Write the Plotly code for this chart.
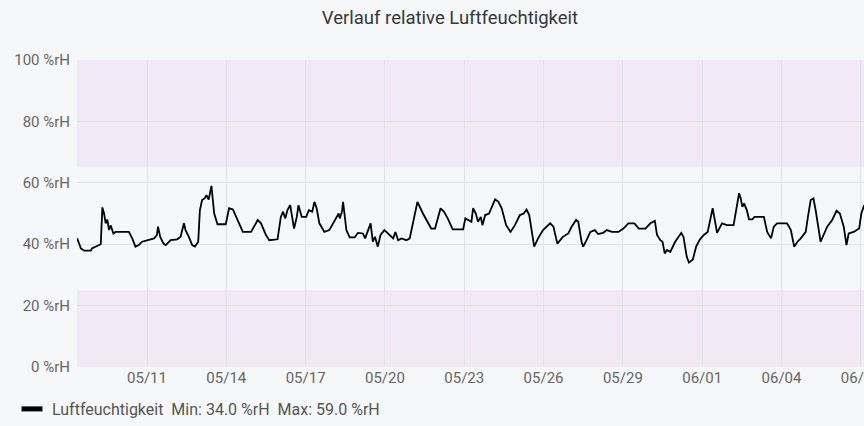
import plotly.graph_objects as go

title_text = "Verlauf relative Luftfeuchtigkeit"
series_name = "Luftfeuchtigkeit"
unit = "%rH"

times = [
    "2024-05-08 08:30", "2024-05-08 12:00", "2024-05-08 15:00", "2024-05-08 21:00", "2024-05-08 22:00",
    "2024-05-09 01:00", "2024-05-09 06:00", "2024-05-09 07:30", "2024-05-09 09:00", "2024-05-09 10:30",
    "2024-05-09 12:00", "2024-05-09 13:30", "2024-05-09 15:00", "2024-05-09 17:30", "2024-05-09 19:30",
    "2024-05-10 07:30", "2024-05-10 09:00", "2024-05-10 10:30", "2024-05-10 13:30", "2024-05-10 16:30",
    "2024-05-10 19:30", "2024-05-11 00:30", "2024-05-11 06:30", "2024-05-11 09:00", "2024-05-11 10:00",
    "2024-05-11 12:00", "2024-05-11 15:00", "2024-05-11 17:00", "2024-05-11 21:30", "2024-05-12 03:30",
    "2024-05-12 06:30", "2024-05-12 09:30", "2024-05-12 11:00", "2024-05-12 14:00", "2024-05-12 17:00",
    "2024-05-12 19:30", "2024-05-12 22:30", "2024-05-13 00:00", "2024-05-13 02:00", "2024-05-13 04:30",
    "2024-05-13 06:00", "2024-05-13 08:00", "2024-05-13 10:30", "2024-05-13 13:00", "2024-05-13 16:00",
    "2024-05-13 23:30", "2024-05-14 02:30", "2024-05-14 06:00", "2024-05-14 10:30", "2024-05-14 15:00",
    "2024-05-14 22:30", "2024-05-15 04:30", "2024-05-15 07:30", "2024-05-15 12:00", "2024-05-15 15:00",
    "2024-05-15 22:30", "2024-05-16 01:30", "2024-05-16 03:30", "2024-05-16 05:30", "2024-05-16 07:30",
    "2024-05-16 10:00", "2024-05-16 11:30", "2024-05-16 13:30", "2024-05-16 16:00", "2024-05-16 17:30",
    "2024-05-16 20:30", "2024-05-17 00:30", "2024-05-17 03:00", "2024-05-17 06:00", "2024-05-17 08:00",
    "2024-05-17 10:00", "2024-05-17 12:30", "2024-05-17 17:00", "2024-05-17 21:30", "2024-05-18 02:00",
    "2024-05-18 06:00", "2024-05-18 07:00", "2024-05-18 09:00", "2024-05-18 10:00", "2024-05-18 13:00",
    "2024-05-18 16:00", "2024-05-18 20:30", "2024-05-18 23:30", "2024-05-19 04:00", "2024-05-19 06:00",
    "2024-05-19 08:30", "2024-05-19 11:00", "2024-05-19 13:00", "2024-05-19 15:00", "2024-05-19 17:30",
    "2024-05-19 20:00", "2024-05-19 23:30", "2024-05-20 02:30", "2024-05-20 07:30", "2024-05-20 09:30",
    "2024-05-20 12:00", "2024-05-20 15:00", "2024-05-20 19:30", "2024-05-20 22:30", "2024-05-21 05:30",
    "2024-05-21 10:30", "2024-05-21 15:00", "2024-05-21 18:00", "2024-05-21 21:30", "2024-05-22 02:30",
    "2024-05-22 05:30", "2024-05-22 09:00", "2024-05-22 13:30", "2024-05-22 23:00", "2024-05-23 01:00",
    "2024-05-23 03:30", "2024-05-23 06:30", "2024-05-23 08:00", "2024-05-23 10:30", "2024-05-23 12:30",
    "2024-05-23 15:00", "2024-05-23 16:30", "2024-05-23 19:00", "2024-05-23 22:30", "2024-05-24 01:00",
    "2024-05-24 04:00", "2024-05-24 07:00", "2024-05-24 10:00", "2024-05-24 14:00", "2024-05-24 18:00",
    "2024-05-24 22:00", "2024-05-25 02:30", "2024-05-25 06:00", "2024-05-25 08:30", "2024-05-25 11:00",
    "2024-05-25 13:00", "2024-05-25 15:30", "2024-05-25 19:00", "2024-05-25 23:30", "2024-05-26 06:00",
    "2024-05-26 09:00", "2024-05-26 12:30", "2024-05-26 17:30", "2024-05-26 22:30", "2024-05-27 01:30",
    "2024-05-27 05:30", "2024-05-27 07:30", "2024-05-27 10:30", "2024-05-27 12:00", "2024-05-27 15:00",
    "2024-05-27 18:30", "2024-05-27 22:30", "2024-05-28 01:30", "2024-05-28 06:00", "2024-05-28 09:30",
    "2024-05-28 14:00", "2024-05-28 20:00", "2024-05-29 00:30", "2024-05-29 05:00", "2024-05-29 10:30",
    "2024-05-29 14:30", "2024-05-29 20:30", "2024-05-30 01:00", "2024-05-30 05:00", "2024-05-30 07:00",
    "2024-05-30 10:00", "2024-05-30 12:00", "2024-05-30 14:00", "2024-05-30 16:00", "2024-05-30 19:00",
    "2024-05-30 23:30", "2024-05-31 05:00", "2024-05-31 07:00", "2024-05-31 10:00", "2024-05-31 12:00",
    "2024-05-31 15:30", "2024-05-31 18:30", "2024-05-31 22:00", "2024-06-01 01:30", "2024-06-01 05:00",
    "2024-06-01 07:30", "2024-06-01 09:30", "2024-06-01 12:00", "2024-06-01 13:30", "2024-06-01 18:00",
    "2024-06-01 22:30", "2024-06-02 04:30", "2024-06-02 07:30", "2024-06-02 09:30", "2024-06-02 11:00",
    "2024-06-02 12:30", "2024-06-02 14:00", "2024-06-02 16:30", "2024-06-02 18:30", "2024-06-02 21:30",
    "2024-06-02 23:30", "2024-06-03 08:00", "2024-06-03 11:00", "2024-06-03 12:30", "2024-06-03 14:30",
    "2024-06-03 17:00", "2024-06-03 20:00", "2024-06-04 05:00", "2024-06-04 08:30", "2024-06-04 11:30",
    "2024-06-04 14:30", "2024-06-04 17:30", "2024-06-04 22:00", "2024-06-05 00:00", "2024-06-05 02:30",
    "2024-06-05 05:00", "2024-06-05 07:00", "2024-06-05 11:30", "2024-06-05 14:30", "2024-06-05 17:30",
    "2024-06-05 22:00", "2024-06-06 02:00", "2024-06-06 05:00", "2024-06-06 08:30", "2024-06-06 11:00",
    "2024-06-06 13:00", "2024-06-06 17:30", "2024-06-06 22:30", "2024-06-07 00:30", "2024-06-07 03:00",
]

humidity = [
    42.0, 38.6, 37.9, 37.9, 38.6,
    39.2, 40.0, 52.0, 50.0, 46.8,
    48.0, 44.6, 46.2, 43.5, 44.0,
    44.0, 43.0, 42.0, 39.2, 39.7,
    40.8, 41.3, 41.9, 43.0, 45.7,
    42.4, 40.2, 39.7, 41.3, 41.6,
    42.4, 46.8, 44.6, 42.4, 39.7,
    39.2, 40.8, 51.0, 54.4, 55.0,
    56.0, 54.5, 59.0, 50.0, 46.5,
    46.5, 51.7, 51.3, 47.9, 44.0,
    44.0, 47.9, 46.8, 43.0, 41.3,
    41.6, 48.9, 50.6, 48.4, 51.1,
    52.7, 48.9, 45.1, 48.9, 52.7,
    48.9, 48.9, 51.1, 50.6, 53.8,
    51.7, 46.8, 44.0, 44.6, 47.3,
    50.0, 48.4, 50.6, 53.8, 44.6,
    42.2, 42.2, 43.7, 43.5, 41.9,
    44.6, 46.8, 40.8, 42.4, 39.2,
    43.0, 44.6, 43.5, 41.9, 44.0,
    41.3, 41.9, 41.3, 41.9, 53.8,
    50.0, 46.8, 45.1, 45.1, 51.7,
    50.6, 48.4, 44.8, 44.8, 48.4,
    47.9, 47.3, 51.7, 50.0, 47.3,
    48.9, 46.2, 49.5, 50.0, 52.2,
    54.6, 53.8, 51.7, 46.2, 44.0,
    46.2, 49.5, 50.0, 51.3, 49.5,
    44.6, 39.2, 41.9, 44.6, 46.8,
    45.7, 40.2, 42.4, 43.5, 45.7,
    47.9, 47.3, 40.8, 39.2, 41.3,
    44.0, 44.6, 43.3, 43.7, 44.6,
    44.0, 44.0, 45.1, 46.8, 46.8,
    45.1, 45.1, 46.8, 47.6, 43.0,
    41.3, 40.8, 37.0, 38.1, 37.5,
    40.8, 43.7, 42.4, 35.9, 34.0,
    35.0, 39.2, 41.6, 43.0, 44.0,
    48.9, 51.7, 46.8, 43.7, 46.8,
    46.2, 46.2, 52.2, 56.6, 54.9,
    52.2, 53.3, 51.1, 48.1, 48.1,
    48.9, 48.9, 44.0, 43.0, 41.9,
    45.7, 46.8, 46.8, 44.6, 39.2,
    40.8, 41.9, 44.0, 48.9, 54.4,
    54.9, 51.1, 40.8, 43.0, 45.7,
    47.9, 50.9, 50.0, 45.7, 39.7,
    43.5, 44.0, 45.1, 50.0, 52.7,
]

y_ticks = [0, 20, 40, 60, 80, 100]
y_tick_labels = [f"{v} {unit}" for v in y_ticks]
band_high = [65, 100]
band_low = [0, 25]
x_range = ["2024-05-08 08:27", "2024-06-07 02:54"]

legend_label = f"{series_name}  Min: {min(humidity):.1f} {unit}  Max: {max(humidity):.1f} {unit}"

bg = "#f6f7f9"
band_color = "#f1eaf6"
grid_color = "#e2e2e8"

W, H = 864, 426

fig = go.Figure()
fig.add_trace(go.Scatter(
    x=times, y=humidity, mode="lines",
    line=dict(color="#000000", width=1.8),
    showlegend=False, name=series_name,
))
fig.add_trace(go.Scatter(
    x=[None], y=[None], mode="markers", name=legend_label,
    marker=dict(symbol="line-ew-open", size=15, color="#000000",
                line=dict(width=5, color="#000000")),
))

for lo, hi in (band_high, band_low):
    fig.add_shape(type="rect", xref="paper", yref="y", x0=0, x1=1, y0=lo, y1=hi,
                  fillcolor=band_color, line=dict(width=0), layer="below")

fig.update_layout(
    width=W, height=H,
    margin=dict(l=77, r=0, t=60, b=59, autoexpand=False),
    paper_bgcolor=bg, plot_bgcolor=bg,
    font=dict(family="Roboto", size=15, color="#666666"),
    title=dict(text=title_text, x=450 / W, xanchor="center", xref="container",
               y=1 - 18 / H, yanchor="middle", yref="container",
               font=dict(family="Roboto", size=18.5, color="#33373d")),
    legend=dict(orientation="h", xref="container", yref="container",
                x=12 / W, y=0.0, xanchor="left", yanchor="bottom",
                font=dict(size=16, color="#555555"), itemwidth=30,
                bgcolor="rgba(0,0,0,0)"),
    xaxis=dict(type="date", range=x_range, tickformat="%m/%d", dtick=3 * 86400000,
               tick0="2024-05-11", showgrid=True, gridcolor=grid_color, gridwidth=1,
               zeroline=False, showline=False, ticks="", ticklabeloverflow="allow",
               automargin=False, tickfont=dict(size=15, color="#666666")),
    yaxis=dict(range=[0, 100], tickmode="array", tickvals=y_ticks, ticktext=y_tick_labels,
               showgrid=True, gridcolor=grid_color, gridwidth=1, zeroline=False,
               showline=False, ticks="", ticklabelstandoff=6, automargin=False,
               tickfont=dict(size=15, color="#666666")),
)

fig.write_html(
    "out.html",
    config={"displayModeBar": False},
    post_script="document.body.style.margin='0';document.body.style.overflow='hidden';",
)
